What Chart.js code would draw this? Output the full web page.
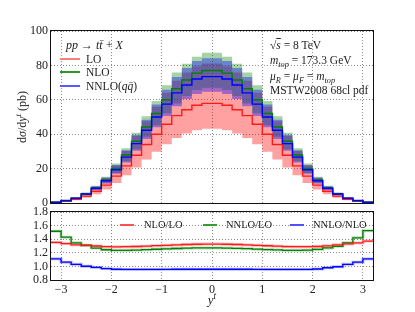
<!DOCTYPE html>
<html><head><meta charset="utf-8">
<script src="https://cdn.jsdelivr.net/npm/chart.js@4"></script>
<style>
body{margin:0;background:#fff;width:415px;height:312px;overflow:hidden;position:relative;font-family:"Liberation Serif","DejaVu Serif",serif;}
canvas{position:absolute;left:0;}
#c1{top:0;}
#c2{top:190px;}
.t{position:absolute;white-space:nowrap;font-size:11.5px;color:#222;line-height:14px;}
.s{font-size:10.5px;}
.t sub,.t sup{font-size:72%;line-height:0;}
.sw{position:absolute;height:2px;}
.ov{text-decoration:overline;}
</style></head><body>
<canvas id="c1" width="415" height="220" style="width:415px;height:220px"></canvas>
<canvas id="c2" width="415" height="122" style="width:415px;height:122px"></canvas>

<div class="t" style="left:66px;top:38px;font-size:12px;"><i>pp</i> → <i>t</i><i>t&#x0304;</i> + <i>X</i></div>
<div class="sw" style="left:60px;top:58px;width:20px;background:#ff7f7f"></div>
<div class="t" style="left:86px;top:52px;">LO</div>
<div class="sw" style="left:60px;top:71px;width:20px;background:#2e962e"></div>
<div class="t" style="left:86px;top:65px;">NLO</div>
<div class="sw" style="left:60px;top:85px;width:20px;background:#5a5aff"></div>
<div class="t" style="left:86px;top:79px;">NNLO(<i>q</i><i>q&#x0304;</i>)</div>

<div class="t" style="left:270px;top:38px;">√<span class="ov"><i>s</i></span> = 8 TeV</div>
<div class="t" style="left:270px;top:53px;"><i>m</i><sub><i>top</i></sub> = 173.3 GeV</div>
<div class="t" style="left:270px;top:69px;"><i>μ</i><sub><i>R</i></sub> = <i>μ</i><sub><i>F</i></sub> = <i>m</i><sub><i>top</i></sub></div>
<div class="t" style="left:270px;top:83px;">MSTW2008 68cl pdf</div>

<div class="sw" style="left:120px;top:224px;width:14px;background:#ff5050"></div>
<div class="t s" style="left:144px;top:218px;">NLO/LO</div>
<div class="sw" style="left:203px;top:224px;width:14px;background:#30a030"></div>
<div class="t s" style="left:226px;top:218px;">NNLO/LO</div>
<div class="sw" style="left:290px;top:224px;width:14px;background:#5050ff"></div>
<div class="t s" style="left:313px;top:218px;">NNLO/NLO</div>

<div class="t" style="left:22px;top:117px;font-size:12px;transform:translate(-50%,-50%) rotate(-90deg);">d<i>σ</i>/d<i>y</i><sup><i>t</i></sup> (pb)</div>
<div class="t" style="left:212px;top:300px;font-size:13px;transform:translate(-50%,-50%);"><i>y</i><sup><i>t</i></sup></div>

<script>
// ---- data ----
const binEdges = [-3.2,-3.0,-2.8,-2.6,-2.4,-2.2,-2.0,-1.8,-1.6,-1.4,-1.2,-1.0,-0.8,-0.6,-0.4,-0.2,0.0,0.2,0.4,0.6,0.8,1.0,1.2,1.4,1.6,1.8,2.0,2.2,2.4,2.6,2.8,3.0,3.2];
const xTicks = [-3,-2,-1,0,1,2,3];
const yTicksTop = [0,20,40,60,80,100];
const yTicksBot = [0.8,1.0,1.2,1.4,1.6,1.8];

const lo      = [0.3,1.0,2.1,4.0,6.8,10.4,15.6,21.6,27.8,34.0,40.0,45.8,50.8,54.2,56.8,57.9, 57.9,56.8,54.2,50.8,45.8,40.0,34.0,27.8,21.6,15.6,10.4,6.8,4.0,2.1,1.0,0.3];
const loLow   = [0.22,0.75,1.56,3.0,5.1,7.8,11.6,16.1,20.7,25.3,29.8,34.1,37.8,40.4,42.3,43.1, 43.1,42.3,40.4,37.8,34.1,29.8,25.3,20.7,16.1,11.6,7.8,5.1,3.0,1.56,0.75,0.22];
const loHigh  = [0.42,1.4,2.9,5.6,9.5,14.6,21.8,30.2,38.9,47.6,56.0,64.1,71.1,75.9,79.5,81.1, 81.1,79.5,75.9,71.1,64.1,56.0,47.6,38.9,30.2,21.8,14.6,9.5,5.6,2.9,1.4,0.42];
const nlo     = [0.4,1.3,2.8,5.2,8.8,13.4,20.1,27.9,35.9,44.2,52.0,60.0,66.5,71.5,75.5,77.0, 77.0,75.5,71.5,66.5,60.0,52.0,44.2,35.9,27.9,20.1,13.4,8.8,5.2,2.8,1.3,0.4];
const nloLow  = [0.35,1.13,2.4,4.5,7.7,11.7,17.5,24.3,31.2,38.5,45.2,52.2,57.9,62.2,65.7,67.0, 67.0,65.7,62.2,57.9,52.2,45.2,38.5,31.2,24.3,17.5,11.7,7.7,4.5,2.4,1.13,0.35];
const nloHigh = [0.46,1.5,3.2,5.9,10.0,15.3,22.9,31.8,40.9,50.4,59.3,68.4,75.8,81.0,85.0,87.3, 87.3,85.0,81.0,75.8,68.4,59.3,50.4,40.9,31.8,22.9,15.3,10.0,5.9,3.2,1.5,0.46];
const nnlo    = [0.46,1.44,2.8,5.2,8.6,12.9,19.3,26.7,34.5,42.3,50.0,57.5,64.0,68.6,72.1,73.5, 73.5,72.1,68.6,64.0,57.5,50.0,42.3,34.5,26.7,19.3,12.9,8.6,5.2,2.8,1.44,0.46];
const nnloLow = [0.40,1.27,2.5,4.6,7.6,11.4,17.0,23.5,30.4,37.2,44.0,50.6,56.3,60.4,63.4,64.7, 64.7,63.4,60.4,56.3,50.6,44.0,37.2,30.4,23.5,17.0,11.4,7.6,4.6,2.5,1.27,0.40];
const nnloHigh= [0.53,1.65,3.2,6.0,9.8,14.8,22.1,30.6,39.5,48.4,57.3,65.8,73.3,78.5,82.6,84.2, 84.2,82.6,78.5,73.3,65.8,57.3,48.4,39.5,30.6,22.1,14.8,9.8,6.0,3.2,1.65,0.53];

const rNloLo   = [1.352,1.335,1.318,1.312,1.300,1.290,1.288,1.290,1.293,1.298,1.305,1.310,1.316,1.322,1.326,1.328, 1.328,1.326,1.322,1.316,1.310,1.304,1.297,1.292,1.290,1.290,1.293,1.302,1.317,1.330,1.345,1.372];
const rNnloLo  = [1.517,1.430,1.346,1.308,1.270,1.245,1.236,1.236,1.240,1.246,1.252,1.258,1.263,1.268,1.271,1.272, 1.272,1.270,1.266,1.260,1.254,1.248,1.242,1.237,1.236,1.238,1.250,1.272,1.295,1.346,1.420,1.525];
const rNnloNlo = [1.112,1.062,1.030,1.002,0.985,0.968,0.958,0.955,0.955,0.955,0.956,0.957,0.958,0.958,0.958,0.958, 0.958,0.958,0.958,0.958,0.957,0.956,0.955,0.955,0.955,0.955,0.962,0.980,0.995,1.030,1.062,1.110];

// ---- helpers ----
function steps(vals){ return binEdges.map((x,i)=>({x:x, y:vals[Math.min(i, vals.length-1)]})); }
const FONT = {family:'"Liberation Serif","DejaVu Serif",serif', size:12};
const frame = {id:'frame', afterDatasetsDraw(chart){
  const {ctx, chartArea:a} = chart; ctx.save(); ctx.strokeStyle='#111'; ctx.lineWidth=1;
  ctx.strokeRect(Math.round(a.left)-0.5, Math.round(a.top)-0.5, Math.round(a.right-a.left)+1, Math.round(a.bottom-a.top)+1);
  ctx.restore(); }};
const minus = v => String(v).replace('-', '\u2212');
function lineDs(vals, color, order, w){ return {data:steps(vals), borderColor:color, borderWidth:w||1.4, stepped:'before', pointRadius:0, fill:false, order:order}; }
function lowDs(vals){ return {data:steps(vals), borderWidth:0, borderColor:'rgba(0,0,0,0)', stepped:'before', pointRadius:0, fill:false, order:20}; }
function highDs(vals, color, target, order){ return {data:steps(vals), borderWidth:0, borderColor:'rgba(0,0,0,0)', backgroundColor:color, stepped:'before', pointRadius:0, fill:target, order:order}; }
const gridOpts = {color:'#8a8a8a', lineWidth:1, drawTicks:false};
const borderOpts = {display:false, dash:[1,2]};
const xScale = (showLabels) => ({type:'linear', min:-3.2, max:3.2,
  afterBuildTicks: s => { s.ticks = xTicks.map(v=>({value:v})); },
  afterFit: s => { s.height = showLabels ? 32 : 0; },
  grid: gridOpts, border: borderOpts,
  ticks:{display:showLabels, autoSkip:false, font:FONT, color:'#222', padding:3, maxRotation:0, callback:v=>minus(v)}});

// ---- top chart ----
new Chart(document.getElementById('c1'), {
  type:'line',
  data:{datasets:[
    lineDs(lo,'#ff1a1a',2),            //0
    lineDs(nlo,'#008000',1),           //1
    lineDs(nnlo,'#0000ff',0),          //2
    lowDs(loLow),                      //3
    highDs(loHigh,'rgba(255,0,0,0.37)',3,7),   //4
    lowDs(nloLow),                     //5
    highDs(nloHigh,'rgba(0,128,0,0.35)',5,6),  //6
    lowDs(nnloLow),                    //7
    highDs(nnloHigh,'rgba(0,0,255,0.37)',7,5)  //8
  ]},
  options:{responsive:false, animation:false, events:[],
    layout:{padding:{left:0,right:42,top:31,bottom:17}},
    plugins:{legend:{display:false}, tooltip:{enabled:false}},
    scales:{
      x:xScale(false),
      y:{min:0, max:100, afterBuildTicks: s => { s.ticks = yTicksTop.map(v=>({value:v})); },
         afterFit: s => { s.width = 51; },
         grid:gridOpts, border:borderOpts,
         ticks:{autoSkip:false, font:FONT, color:'#222', padding:3}}
    }},
  plugins:[frame]
});

// ---- ratio chart ----
new Chart(document.getElementById('c2'), {
  type:'line',
  data:{datasets:[
    lineDs(rNloLo,'#ff1a1a',0,1.3),
    lineDs(rNnloLo,'#008000',1,1.3),
    lineDs(rNnloNlo,'#0000ff',2,1.3),
    lineDs(rNloLo,'rgba(255,0,0,0.25)',5,3),
    lineDs(rNnloLo,'rgba(0,128,0,0.25)',5,3),
    lineDs(rNnloNlo,'rgba(0,0,255,0.25)',5,3)
  ]},
  options:{responsive:false, animation:false, events:[],
    layout:{padding:{left:0,right:42,top:22,bottom:0}},
    plugins:{legend:{display:false}, tooltip:{enabled:false}},
    scales:{
      x:xScale(true),
      y:{min:0.8, max:1.8, afterBuildTicks: s => { s.ticks = yTicksBot.map(v=>({value:v})); },
         afterFit: s => { s.width = 51; },
         grid:gridOpts, border:borderOpts,
         ticks:{autoSkip:false, font:FONT, color:'#222', padding:3, callback:v=>v.toFixed(1)}}
    }},
  plugins:[frame]
});
</script>
</body></html>
